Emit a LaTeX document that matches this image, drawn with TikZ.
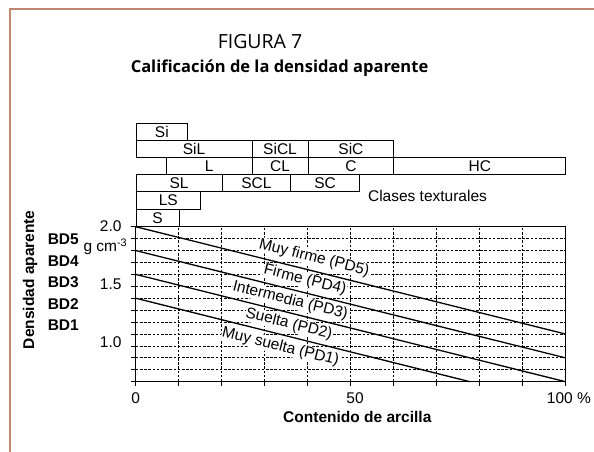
\documentclass[tikz,border=0pt]{standalone}
\usepackage{fontspec}
\setmainfont{Liberation Sans}
\newfontfamily\titlefont{Open Sans}
\definecolor{framebrown}{RGB}{192,136,112}
\tikzset{
  classbox/.style={draw, line width=0.8pt, inner sep=0pt, anchor=south west},
  gridline/.style={line width=0.7pt, black, dash pattern=on 2.6pt off 1.6pt},
  densline/.style={line width=1.3pt},
  curvelabel/.style={sloped, fill=white, inner sep=0.5pt},
}
\begin{document}
\begin{tikzpicture}[x=1pt,y=-1pt,font=\fontsize{15.5}{18}\selectfont]
  \useasboundingbox (0,0) rectangle (594,452);
  % marco
  \draw[framebrown, line width=1.8pt] (10,452) -- (10,9.3) -- (594,9.3);

  % titulo
  \node[font=\titlefont\fontsize{19.5}{22}\selectfont, anchor=base] (fignum) at (260,48.3) {FIGURA 7};
  \node[font=\titlefont\bfseries\fontsize{16.5}{20}\selectfont, anchor=base] (figtitle) at (279.5,72.7) {Calificación de la densidad aparente};

  % clases texturales
  \begin{scope}[shift={(135.7,226.7)}, x=4.296pt, y=17.23pt]
    \foreach \a/\b/\r/\t in {0/10/0/S, 0/15/1/LS, 0/20/2/SL, 20/36/2/SCL, 36/52/2/SC,
                            7/27/3/L, 27/40/3/CL, 40/60/3/C, 60/100/3/HC,
                            0/27/4/SiL, 27/40/4/SiCL, 40/60/4/SiC, 0/12/5/Si}
      \node[classbox, minimum width={(\b-\a)*4.296pt}, minimum height=17.23pt] (cls-\t) at (\a,\r) {\t};
  \end{scope}
  \node (clases) at (427.5,196) {Clases texturales};

  % eje vertical
  \node[rotate=90, font=\bfseries\fontsize{15.5}{18}\selectfont] (ylabel) at (30,279.7) {Densidad aparente};
  \foreach \y/\t in {239.5/BD5, 261.3/BD4, 282.5/BD3, 303.7/BD2, 325.3/BD1}
    \node[font=\bfseries\fontsize{15.5}{18}\selectfont] (\t) at (63.3,\y) {\t};
  \node[anchor=base west, inner sep=0pt] (units) at (83.3,251.7) {g cm\textsuperscript{-3}};
  \node[anchor=east] (y20) at (125,225.7) {2.0};
  \node[anchor=east] (y15) at (125,284) {1.5};
  \node[anchor=east] (y10) at (125,341.7) {1.0};

  % eje horizontal
  \node (x0) at (135.7,398.3) {0};
  \node (x50) at (355,398.3) {50};
  \node[anchor=west, inner sep=0pt] (x100) at (546.7,398.3) {100 \%};
  \node[font=\bfseries\fontsize{15.5}{18}\selectfont] (xlabel) at (357.3,416.7) {Contenido de arcilla};

  % grafico
  \begin{scope}[shift={(135.7,465.1)}, x=4.296pt, y=119.2pt]
    \foreach \d in {0.8,0.9,...,1.95}
      \draw[gridline] (0,\d) -- (100,\d);
    \foreach \c in {10,20,...,90}
      \draw[gridline] (\c,0.7) -- (\c,2.0);
    \foreach \d in {0.7,0.8,...,2.05}
      \draw[line width=0.8pt] (0,\d) -- ++(-5pt,0);
    \foreach \c in {0,10,...,100}
      \draw[line width=0.8pt] (\c,0.7) -- ++(0,-4pt);
    \draw[line width=1pt] (0,2.0) -- (100,2.0) -- (100,0.7);
    \draw[line width=1.3pt] (0,2.0) -- (0,0.7) -- (100,0.7);

    \coordinate (l5a) at (0,2.0);  \coordinate (l5b) at (100,1.1);
    \coordinate (l4a) at (0,1.8);  \coordinate (l4b) at (100,0.9);
    \coordinate (l3a) at (0,1.6);  \coordinate (l3b) at (100,0.7);
    \coordinate (l2a) at (0,1.4);  \coordinate (l2b) at (77.78,0.7);

    \path (l5a) -- node[curvelabel, pos=0.408, above=5pt] (pd5) {Muy firme (PD5)} (l5b);
    \path (l4a) -- node[curvelabel, pos=0.387, above=4.5pt] (pd4) {Firme (PD4)} (l4b);
    \path (l3a) -- node[curvelabel, pos=0.353, above=4pt] (pd3) {Intermedia (PD3)} (l3b);
    \path (l2a) -- node[curvelabel, pos=0.45, above=4pt] (pd2) {Suelta (PD2)} (l2b);
    \path (l2a) -- node[curvelabel, pos=0.442, below=4pt] (pd1) {Muy suelta (PD1)} (l2b);

    \draw[densline] (l5a) -- (l5b);
    \draw[densline] (l4a) -- (l4b);
    \draw[densline] (l3a) -- (l3b);
    \draw[densline] (l2a) -- (l2b);
  \end{scope}
\end{tikzpicture}
\end{document}
